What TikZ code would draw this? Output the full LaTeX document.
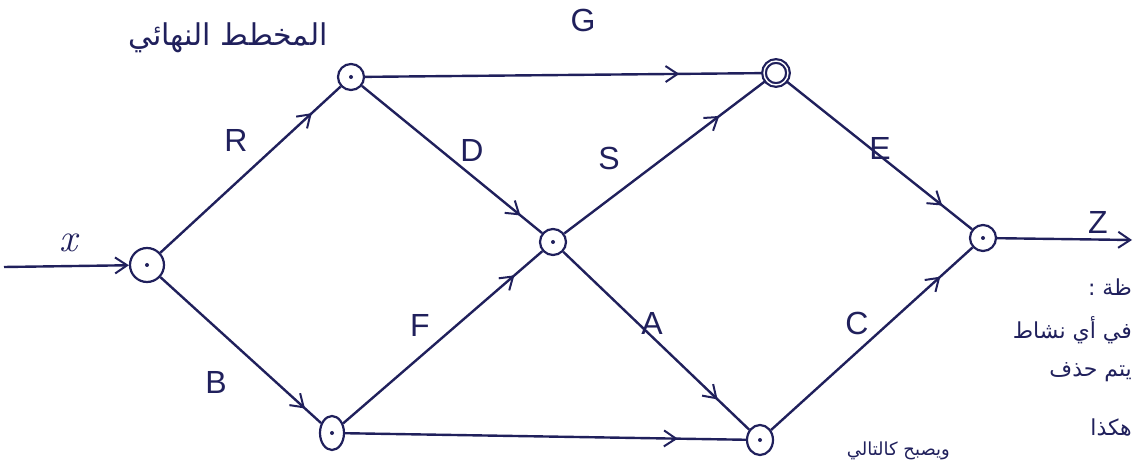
\documentclass[tikz,border=0pt]{standalone}
\usepackage{fontspec}
\setsansfont{Liberation Sans}
\newfontfamily\arabicfont[Script=Arabic]{DejaVu Sans}
\TeXXeTstate=1
\usetikzlibrary{arrows.meta,decorations.markings,shapes.geometric}
\definecolor{ink}{RGB}{32,32,92}
\begin{document}
\begin{tikzpicture}[x=1pt,y=-1pt,
  ink line/.style={draw=ink,line width=2.4pt},
  ev/.style={circle,draw=ink,line width=2.2pt,minimum size=26pt,inner sep=0pt},
  dotc/.style={circle,fill=ink,inner sep=0pt,minimum size=4pt},
  barb/.tip={Straight Barb[length=12pt,width=16pt,line width=2pt]},
  midarrow/.style={decoration={markings,mark=at position #1 with {\arrow{barb}}},postaction=decorate},
  lbl/.style={text=ink,font=\sffamily\fontsize{32}{32}\selectfont},
  note/.style={text=ink,font=\arabicfont\fontsize{22}{26}\selectfont,inner sep=0pt}]
\useasboundingbox (0,0) rectangle (1136,462);
\begin{scope}
\clip (0,0) rectangle (1136,462);
% events
\node[ev,minimum size=34pt] (n1) at (147,265) {};
\node[ev] (n2) at (351,77) {};
\node[ev] (n3) at (553,242) {};
\node[ev,double=white,double distance=1.4pt,minimum size=24pt] (n4) at (776,73) {};
\node[ev] (n5) at (983,238) {};
\node[ellipse,draw=ink,line width=2.2pt,inner sep=0pt,minimum width=24pt,minimum height=34pt] (n6) at (332,433) {};
\node[ellipse,draw=ink,line width=2.2pt,inner sep=0pt,minimum width=26pt,minimum height=30pt] (n7) at (760,440) {};
\foreach \n in {n1,n2,n3,n5,n6,n7} \node[dotc] at (\n) {};
\coordinate (xin) at (4,267);
\coordinate (zout) at (1132,240);
% activities
\draw[ink line,-barb] (xin) -- (n1);
\draw[ink line,midarrow=0.84] (n1) -- (n2);
\draw[ink line,midarrow=0.90] (n1) -- (n6);
\draw[ink line,midarrow=0.88] (n2) -- (n3);
\draw[ink line,midarrow=0.79] (n2) -- (n4);
\draw[ink line,midarrow=0.77] (n3) -- (n4);
\draw[ink line,midarrow=0.83] (n3) -- (n7);
\draw[ink line,midarrow=0.86] (n6) -- (n3);
\draw[ink line,midarrow=0.83] (n6) -- (n7);
\draw[ink line,midarrow=0.84] (n4) -- (n5);
\draw[ink line,midarrow=0.84] (n7) -- (n5);
\draw[ink line,-barb] (n5) -- (zout);
% labels
\node[lbl,font=\rmfamily\itshape\fontsize{40}{40}\selectfont] (lx) at (68,243) {x};
\node[lbl] (lr) at (236,140) {R};
\node[lbl] (lb) at (216,382) {B};
\node[lbl] (lg) at (583,20) {G};
\node[lbl] (ld) at (472,150) {D};
\node[lbl] (ls) at (609,158) {S};
\node[lbl] (le) at (880,148) {E};
\node[lbl] (lf) at (420,325) {F};
\node[lbl] (la) at (652,323) {A};
\node[lbl] (lc) at (857,323) {C};
\node[lbl] (lz) at (1098,222) {Z};
% notes
\node[note,font=\arabicfont\fontsize{30}{32}\selectfont] (title) at (228,38) {\beginR المخطط النهائي\endR};
\node[note,anchor=east] (t1) at (1132,287) {\beginR ظة :\endR};
\node[note,anchor=east] (t2) at (1132,330) {\beginR في أي نشاط\endR};
\node[note,anchor=east] (t3) at (1132,372) {\beginR يتم حذف\endR};
\node[note,anchor=east] (t4) at (1132,428) {\beginR هكذا\endR};
\node[note,anchor=east,font=\arabicfont\fontsize{18}{20}\selectfont] (t5) at (950,451) {\beginR ويصبح كالتالي\endR};
\end{scope}
\end{tikzpicture}
\end{document}
